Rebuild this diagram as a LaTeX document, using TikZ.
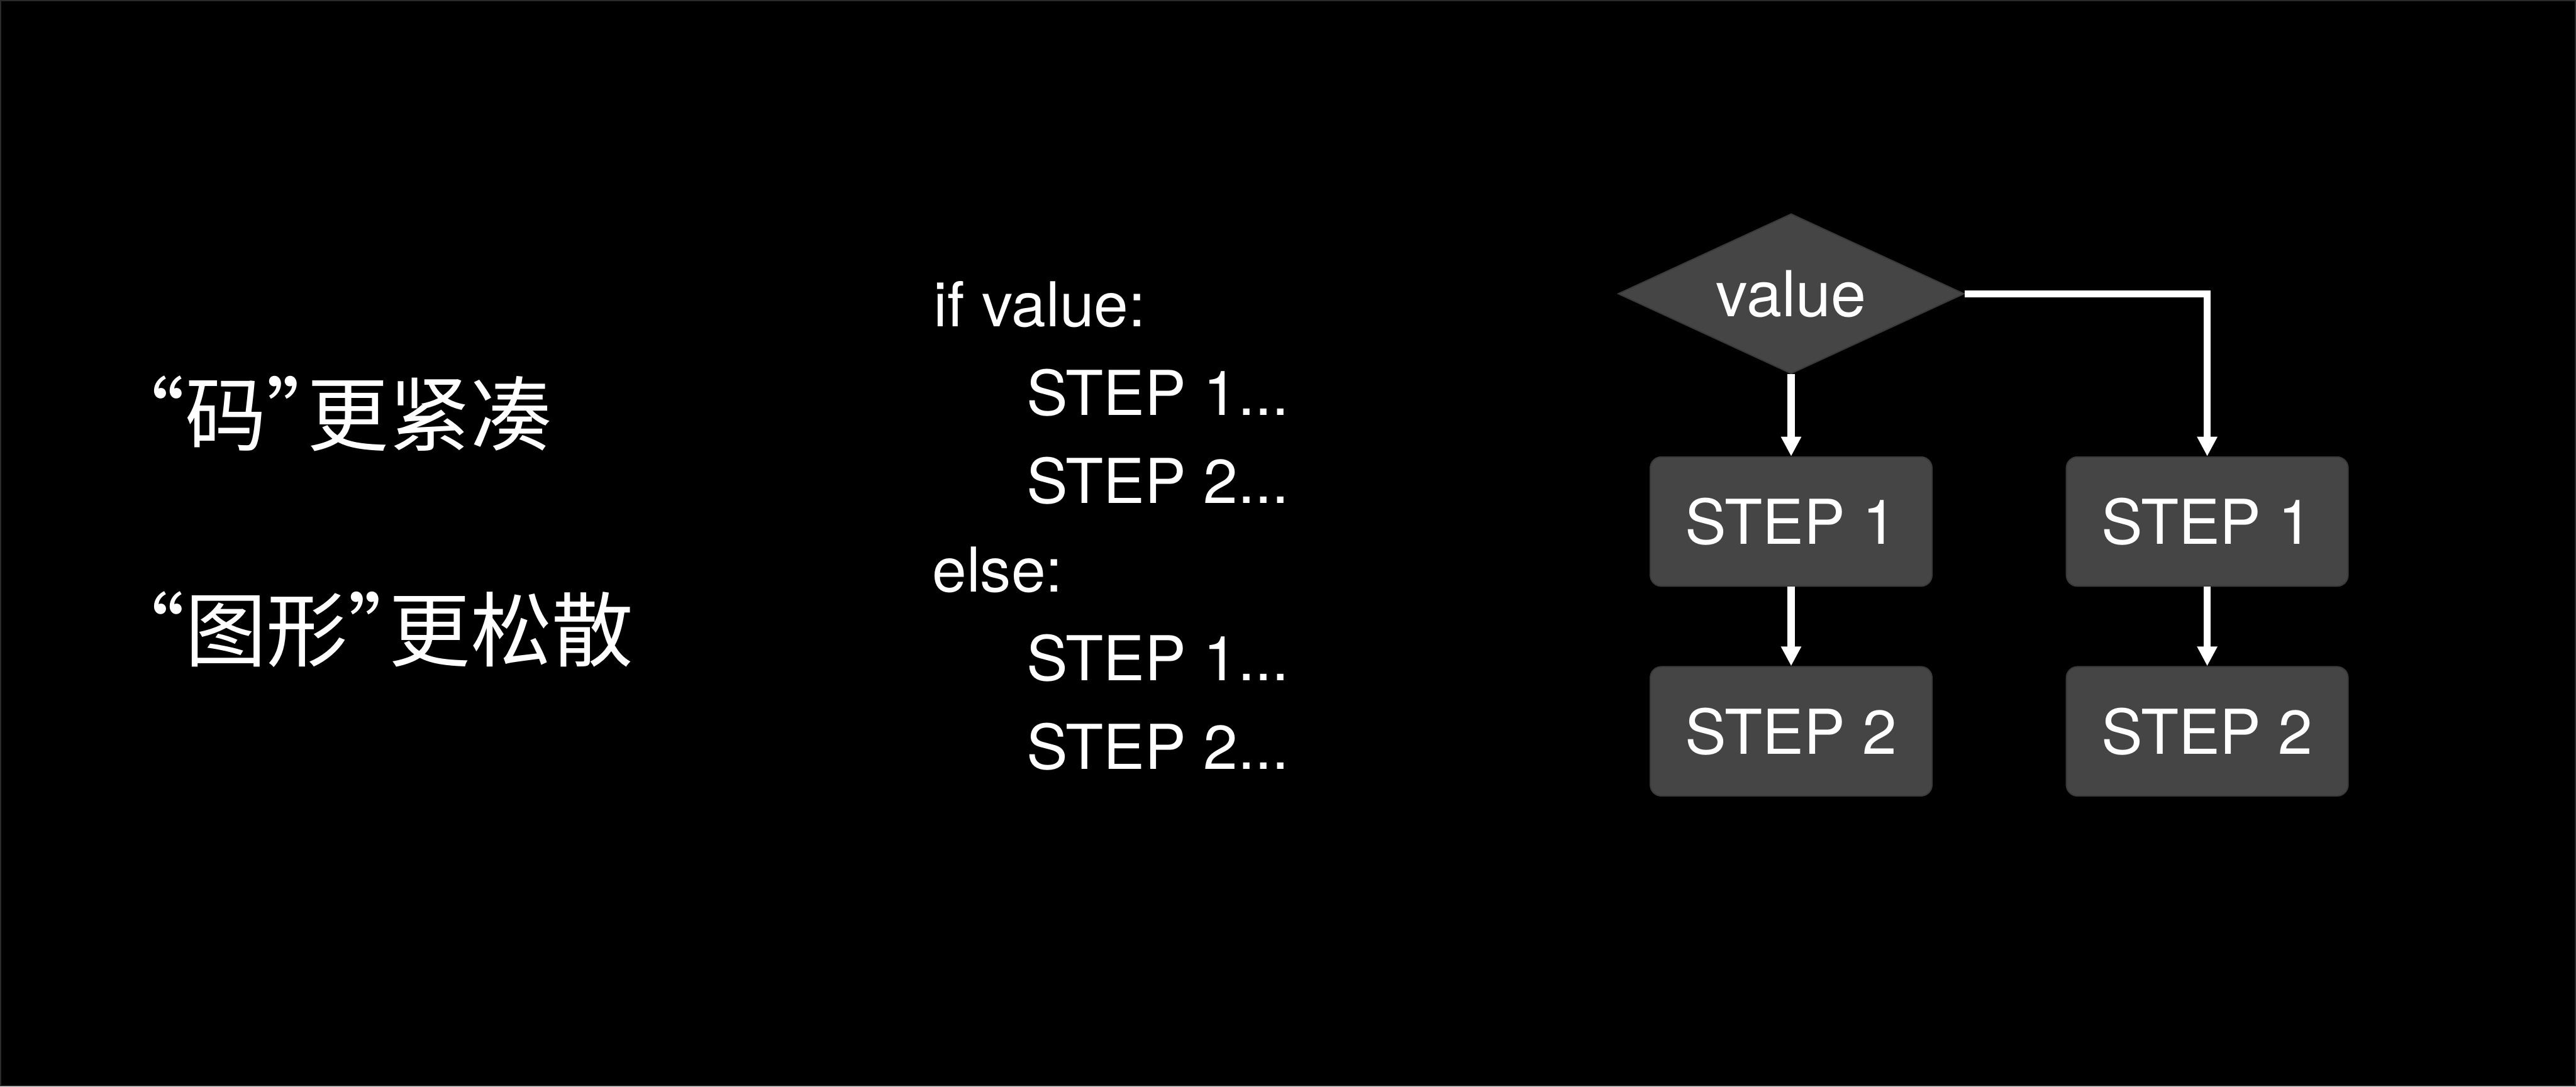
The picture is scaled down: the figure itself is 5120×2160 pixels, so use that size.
\documentclass[tikz,border=0pt]{standalone}
\usepackage{fontspec}
\setmainfont{TeX Gyre Heros}
\newfontfamily\cjk{Noto Sans CJK SC}
\newfontfamily\cjkq[RawFeature=+halt]{Noto Sans CJK SC}
\usetikzlibrary{shapes.geometric,arrows.meta}
\definecolor{boxfill}{HTML}{454545}
\definecolor{boxline}{HTML}{3A3A3A}
\definecolor{edgeline}{HTML}{2A2A2A}
\tikzset{
  codeline/.style={anchor=base west,inner sep=0pt,text=white,font=\fontsize{12.3}{14}\selectfont},
  cjkline/.style={anchor=west,inner sep=0pt,text=white,font=\cjk\fontsize{16.2}{18}\selectfont},
  stepbox/.style={rectangle,rounded corners=2.2pt,minimum width=56pt,minimum height=25.7pt,inner sep=0pt,
    fill=boxfill,draw=boxline,line width=0.25pt,text=white,font=\fontsize{12.3}{14}\selectfont},
  decision/.style={diamond,aspect=2.16,minimum width=68.8pt,minimum height=31.8pt,inner sep=0pt,
    fill=boxfill,draw=boxline,line width=0.25pt,text=white,font=\fontsize{12.6}{14}\selectfont},
  flow/.style={draw=white,line width=1.4pt,-{Triangle[length=3.9pt,width=3.8pt]}}
}
\begin{document}
\begin{tikzpicture}[x=0.1pt,y=-0.1pt]
\useasboundingbox (0,0) rectangle (5120,2160);
\fill[black] (0,0) rectangle (5120,2160);
\draw[edgeline,line width=0.3pt] (1.5,1.5) rectangle (5118.5,2158.5);

% left statements
\node[cjkline] (t1) at (285,822) {{\cjkq “}码{\cjkq ”}更紧凑};
\node[cjkline] (t2) at (285,1251) {{\cjkq “}图形{\cjkq ”}更松散};

% code
\node[codeline] (c1) at (1854,649) {if value:};
\node[codeline] (c2) at (2038,825) {STEP 1...};
\node[codeline] (c3) at (2038,1001) {STEP 2...};
\node[codeline] (c4) at (1851,1177) {else:};
\node[codeline] (c5) at (2038,1353) {STEP 1...};
\node[codeline] (c6) at (2038,1529) {STEP 2...};

% flowchart
\node[decision] (dia) at (3560,584) {value};
\node[stepbox] (a1) at (3560,1037) {STEP 1};
\node[stepbox] (a2) at (3560,1454) {STEP 2};
\node[stepbox] (b1) at (4387,1037) {STEP 1};
\node[stepbox] (b2) at (4387,1454) {STEP 2};

\draw[flow] (dia.south) -- (a1.north);
\draw[flow] (a1.south) -- (a2.north);
\draw[flow] (dia.east) -| (b1.north);
\draw[flow] (b1.south) -- (b2.north);
\end{tikzpicture}
\end{document}
